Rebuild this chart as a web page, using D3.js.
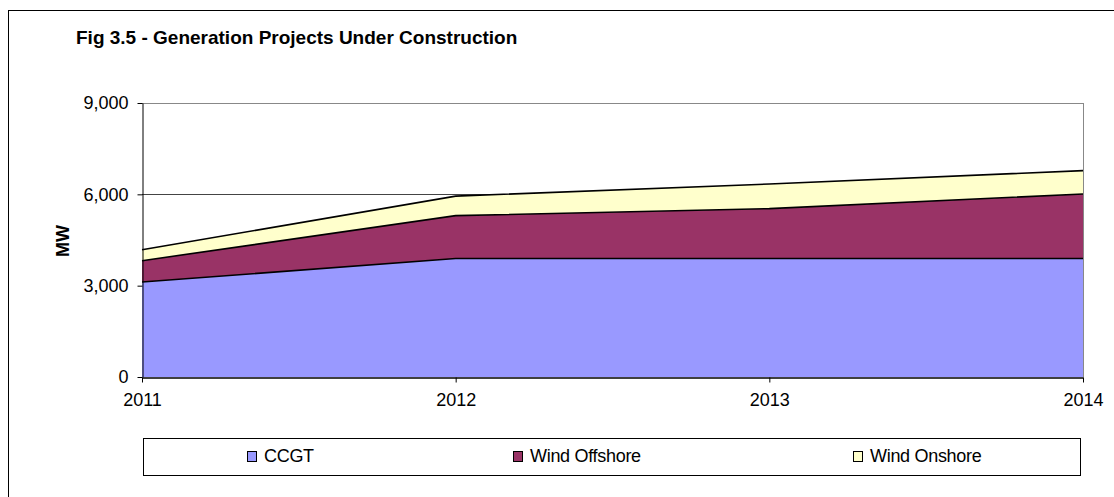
<!DOCTYPE html>
<html>
<head>
<meta charset="utf-8">
<script src="https://cdn.jsdelivr.net/npm/d3@7"></script>
<style>
  body { margin: 0; background: #fff; }
  svg { font-family: "Liberation Sans", Arial, sans-serif; }
</style>
</head>
<body>
<div id="chart"></div>
<script>
const years = ["2011", "2012", "2013", "2014"];
const ccgt = [3120, 3890, 3890, 3890];
const windOffshore = [700, 1410, 1640, 2120];
const windOnshore = [360, 640, 810, 770];
const seriesNames = ["CCGT", "Wind Offshore", "Wind Onshore"];
const seriesColors = ["#9999ff", "#993366", "#ffffcc"];
const yTicks = [0, 3000, 6000, 9000];

const width = 1114, height = 497;
const margin = { left: 142, right: 31, top: 103, bottom: 120 };

const svg = d3.select("#chart").append("svg")
  .attr("width", width)
  .attr("height", height);

// outer frame (runs off the right/bottom edge like the original)
svg.append("rect")
  .attr("x", 8.5).attr("y", 10.5)
  .attr("width", 1120).attr("height", 500)
  .attr("fill", "none").attr("stroke", "#000").attr("stroke-width", 1);

svg.append("text")
  .attr("x", 76).attr("y", 44)
  .attr("font-size", 19).attr("font-weight", "bold")
  .text("Fig 3.5 - Generation Projects Under Construction");

const x = d3.scalePoint().domain(years).range([margin.left, 1083]);
const y = d3.scaleLinear().domain([0, 9000]).range([377, margin.top]);

// gridlines
svg.append("g").selectAll("line")
  .data(yTicks.filter(d => d > 0))
  .enter().append("line")
  .attr("x1", margin.left).attr("x2", 1083)
  .attr("y1", d => Math.round(y(d)) + 0.5).attr("y2", d => Math.round(y(d)) + 0.5)
  .attr("stroke", d => d === 9000 ? "#888" : "#444");

// plot area right border
svg.append("line")
  .attr("x1", 1083.5).attr("x2", 1083.5)
  .attr("y1", y(9000)).attr("y2", y(0))
  .attr("stroke", "#888");

const rows = years.map((yr, i) => ({
  year: yr, CCGT: ccgt[i], "Wind Offshore": windOffshore[i], "Wind Onshore": windOnshore[i]
}));
const stacked = d3.stack().keys(seriesNames)(rows);

const area = d3.area()
  .x(d => x(d.data.year))
  .y0(d => y(d[0]))
  .y1(d => y(d[1]));

svg.append("g").selectAll("path")
  .data(stacked)
  .enter().append("path")
  .attr("d", area)
  .attr("fill", (d, i) => seriesColors[i]);

const topLine = d3.line()
  .x(d => x(d.data.year))
  .y(d => y(d[1]));

svg.append("g").selectAll("path")
  .data(stacked)
  .enter().append("path")
  .attr("d", topLine)
  .attr("fill", "none")
  .attr("stroke", "#000")
  .attr("stroke-width", 1.6);

// axes
const yAxis = svg.append("g")
  .attr("transform", `translate(${margin.left + 0.5},0)`)
  .call(d3.axisLeft(y).tickValues(yTicks).tickSize(5).tickPadding(9).tickSizeOuter(0)
    .tickFormat(d3.format(",")));
yAxis.select(".domain").attr("stroke", "#000");
yAxis.selectAll("text").attr("font-size", 18).attr("fill", "#000")
  .attr("font-family", "Liberation Sans, Arial, sans-serif");

const xAxis = svg.append("g")
  .attr("transform", `translate(0,${y(0) + 0.5})`)
  .call(d3.axisBottom(x).tickSize(5).tickPadding(5).tickSizeOuter(0));
xAxis.select(".domain").attr("stroke", "#000").attr("stroke-width", 1.6);
xAxis.selectAll("text").attr("font-size", 18).attr("fill", "#000")
  .attr("font-family", "Liberation Sans, Arial, sans-serif")
  .attr("dy", "1.05em");

svg.append("text")
  .attr("transform", "translate(69,241) rotate(-90)")
  .attr("text-anchor", "middle")
  .attr("font-size", 18).attr("font-weight", "bold")
  .text("MW");

// legend
svg.append("rect")
  .attr("x", 143.5).attr("y", 438.5)
  .attr("width", 937).attr("height", 37)
  .attr("fill", "#fff").attr("stroke", "#000");

const legendX = [247, 513, 853];
const lg = svg.append("g").selectAll("g")
  .data(seriesNames)
  .enter().append("g")
  .attr("transform", (d, i) => `translate(${legendX[i]},451)`);
lg.append("rect")
  .attr("x", 0.5).attr("y", 0.5)
  .attr("width", 9).attr("height", 10)
  .attr("fill", (d, i) => seriesColors[i])
  .attr("stroke", "#000");
lg.append("text")
  .attr("x", 17).attr("y", 11)
  .attr("font-size", 18)
  .attr("letter-spacing", "-0.3")
  .text(d => d);
</script>
</body>
</html>
